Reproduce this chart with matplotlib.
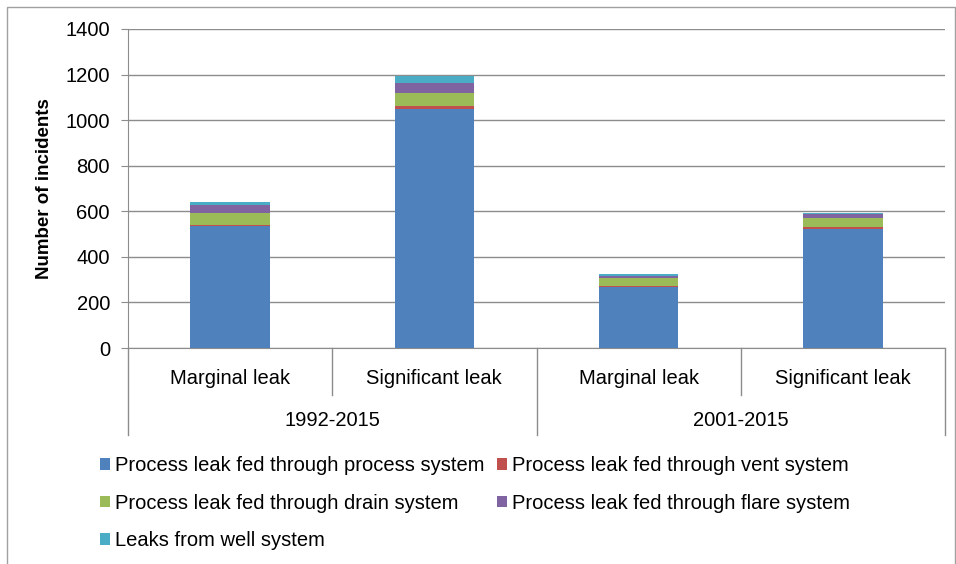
import matplotlib
matplotlib.use("Agg")
import matplotlib.pyplot as plt
import matplotlib.transforms as mtransforms
from matplotlib.patches import Patch, Rectangle
import numpy as np

plt.rcParams["font.family"] = ["Liberation Sans", "DejaVu Sans"]

# Incident counts per leak category, stacked by feed source.
sub_labels = ["Marginal leak", "Significant leak", "Marginal leak", "Significant leak"]
periods = ["1992-2015", "2001-2015"]
series_names = [
    "Process leak fed through process system",
    "Process leak fed through vent system",
    "Process leak fed through drain system",
    "Process leak fed through flare system",
    "Leaks from well system",
]
process_sys = [535, 1047, 268, 524]
vent_sys = [6, 15, 5, 6]
drain_sys = [53, 59, 33, 39]
flare_sys = [35, 43, 10, 19]
well_sys = [12, 31, 7, 3]
colors = ["#4F81BD", "#C0504D", "#9BBB59", "#8064A2", "#4BACC6"]
yticks = [0, 200, 400, 600, 800, 1000, 1200, 1400]

W, H = 956, 564
FS = 14.5
fig = plt.figure(figsize=(W / 100, H / 100), dpi=100)


def fx(px):
    return px / W


def fy(py):
    return 1 - py / H


left, right, top, bottom = 128, 945, 29, 348
ax = fig.add_axes([fx(left), fy(bottom), fx(right - left), (bottom - top) / H])

x = np.arange(len(sub_labels))
bottoms = np.zeros(len(sub_labels))
for name, vals, c in zip(series_names,
                         [process_sys, vent_sys, drain_sys, flare_sys, well_sys],
                         colors):
    ax.bar(x, vals, width=0.39, bottom=bottoms, color=c, label=name, zorder=3)
    bottoms += np.array(vals)

grid_c = "#8C8C8C"
ax.set_xlim(-0.5, len(sub_labels) - 0.5)
ax.set_ylim(0, 1400)
ax.set_yticks(yticks)
ax.yaxis.grid(True, color=grid_c, linewidth=1)
ax.set_axisbelow(True)
ax.tick_params(axis="y", length=5, color=grid_c, labelsize=FS, pad=8)
ax.set_xticks([])
for s in ["top", "right"]:
    ax.spines[s].set_visible(False)
for s in ["left", "bottom"]:
    ax.spines[s].set_color(grid_c)
ax.set_ylabel("Number of incidents", fontsize=13.5, fontweight="bold", labelpad=9)

# two-level category axis drawn under the plot area
trans = mtransforms.blended_transform_factory(ax.transData, fig.transFigure)
for i, lab in enumerate(sub_labels):
    ax.text(i, fy(378), lab, transform=trans, ha="center", va="center", fontsize=FS)
for g, per in enumerate(periods):
    ax.text(2 * g + 0.5, fy(420), per, transform=trans, ha="center", va="center", fontsize=FS)
for xs, ybot in [(-0.5, 435), (0.5, 395), (1.5, 435), (2.5, 395), (3.5, 435)]:
    ax.plot([xs, xs], [fy(bottom), fy(ybot)], transform=trans, color=grid_c,
            linewidth=1, clip_on=False)

# legend laid out row by row in two columns
handles = [Patch(facecolor=c, edgecolor="none") for c in colors]
order = [0, 2, 4, 1, 3]
fig.legend([handles[i] for i in order], [series_names[i] for i in order],
           ncol=2, loc="upper left", bbox_to_anchor=(fx(90), fy(446)),
           frameon=False, fontsize=FS, handlelength=0.5, handleheight=0.5,
           handletextpad=0.25, columnspacing=0.6, labelspacing=0.92, borderpad=0)

fig.patches.append(Rectangle((fx(7), fy(H + 5)), fx(955 - 7), (H + 5 - 7) / H,
                             transform=fig.transFigure, fill=False,
                             edgecolor="#A0A0A0", linewidth=1))

fig.savefig("out.png", dpi=100)
